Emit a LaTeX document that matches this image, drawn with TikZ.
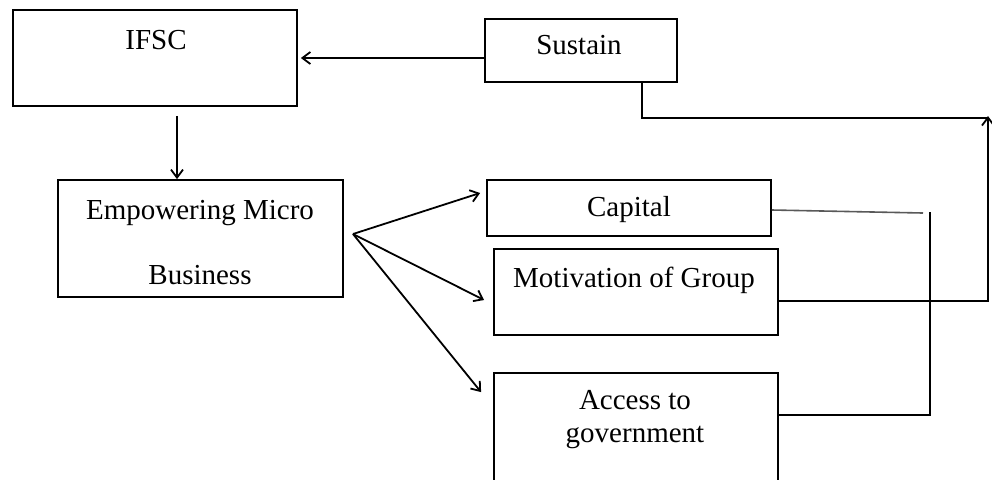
\documentclass[tikz,border=0pt]{standalone}
\usepackage{fontspec}
\setmainfont{Liberation Serif}
\usetikzlibrary{arrows.meta}
\begin{document}
\begin{tikzpicture}[x=0.5pt,y=-0.5pt,
  box/.style={draw, line width=0.9pt, inner sep=0pt},
  txt/.style={inner sep=0pt, font=\fontsize{14.5}{16.5}\selectfont, align=center},
  conn/.style={line width=0.9pt},
  arr/.style={line width=0.9pt, -{Straight Barb[length=4pt,width=6pt]}}]
\useasboundingbox (0,0) rectangle (992,479);
\clip (0,0) rectangle (992,479);
\fill[white] (0,0) rectangle (992,479);
% boxes
\node[box, minimum width=142pt, minimum height=48pt] (ifsc) at (155,58) {};
\node[box, minimum width=96pt, minimum height=31.5pt] (sus) at (581,50.5) {};
\node[box, minimum width=142.5pt, minimum height=58.5pt] (emp) at (200.5,238.5) {};
\node[box, minimum width=142pt, minimum height=28pt] (cap) at (629,208) {};
\node[box, minimum width=142pt, minimum height=43pt] (mot) at (636,292) {};
\node[box, minimum width=142pt, minimum height=58.5pt] (acc) at (636,431.5) {};
% texts
\node[txt] (ifsct) at (156,40) {IFSC};
\node[txt] (sust) at (579,45) {Sustain};
\node[txt, font=\fontsize{14.5}{32.5}\selectfont] (empt) at (200,243) {Empowering Micro\\Business};
\node[txt] (capt) at (629,210) {Capital};
\node[txt] (mott) at (634,280) {Motivation of Group};
\node[txt] (acct) at (635,420) {Access to\\government};
% connectors
\draw[arr, shorten >=1.5pt] (sus.west |- ifsc.east) -- (ifsc.east);
\draw[arr] ([xshift=11pt,yshift=-4.5pt]ifsc.south) -- ([xshift=11pt]ifsc.south |- emp.north);
\coordinate (fan) at (353,234);
\draw[arr] (fan) -- ([xshift=-3pt,yshift=7.5pt]cap.west);
\draw[arr] (fan) -- ([xshift=-4.5pt,yshift=-4pt]mot.west);
\draw[arr] (fan) -- ([xshift=-6pt,yshift=-10pt]acc.north west);
\coordinate (j1) at (930,212);
\coordinate (j2) at (923,213);
\draw[line width=0.8pt, black!65] ([yshift=-1pt]cap.east) -- (j2);
\draw[conn] ([yshift=8.25pt]acc.east) -| (j1);
\coordinate (up) at (988,116);
\coordinate (sc) at (988,118);
\draw[arr] ([yshift=-4.5pt]mot.east) -| (up);
\draw[conn] ([xshift=30.5pt]sus.south) |- (sc);
\end{tikzpicture}
\end{document}
